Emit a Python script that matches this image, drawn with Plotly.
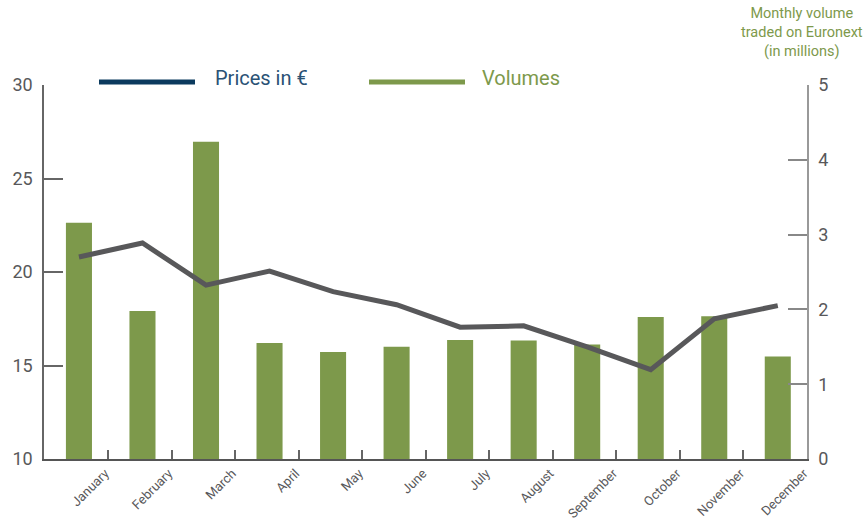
import plotly.graph_objects as go

months = ["January", "February", "March", "April", "May", "June", "July",
          "August", "September", "October", "November", "December"]
volumes = [3.16, 1.98, 4.24, 1.55, 1.43, 1.50, 1.59, 1.585, 1.53, 1.90, 1.91, 1.37]
prices = [20.8, 21.55, 19.3, 20.05, 18.95, 18.25, 17.05, 17.12, 16.0, 14.78, 17.5, 18.2]
price_ticks = [10, 15, 20, 25, 30]
volume_ticks = [0, 1, 2, 3, 4, 5]

GREEN = "#7d994b"
GREY_LINE = "#58585a"
NAVY = "#0b3a5e"
TXT = "#58585a"
FONT = "Roboto"

x = list(range(len(months)))

fig = go.Figure()
fig.add_trace(go.Bar(x=x, y=volumes, width=0.41, marker=dict(color=GREEN, line=dict(width=0)),
                     yaxis="y", name="Volumes", showlegend=False))
fig.add_trace(go.Scatter(x=x, y=prices, mode="lines", line=dict(color=GREY_LINE, width=5),
                         yaxis="y2", name="Prices in €", showlegend=False))

fig.update_layout(
    width=868, height=524,
    margin=dict(l=44, r=61, t=85, b=65),
    paper_bgcolor="white", plot_bgcolor="white",
    font=dict(family=FONT, color=TXT),
    xaxis=dict(range=[-0.55, 11.46], tickmode="array", tickvals=[i + 0.46 for i in x],
               ticktext=months, tickangle=-45, ticks="inside", ticklen=9, tickwidth=1.5,
               tickcolor="#666", showline=True, linecolor="#555", linewidth=1.5,
               showgrid=False, zeroline=False, tickfont=dict(size=13, color=TXT),
               ticklabelshift=-3, automargin=False),
    yaxis=dict(range=[0, 5], side="right", tickmode="array", tickvals=volume_ticks,
               ticks="inside", ticklen=19, tickwidth=1.5, tickcolor="#888",
               showline=True, linecolor="#999", linewidth=1.5, showgrid=False,
               zeroline=False, tickfont=dict(size=18, color=TXT), ticklabelstandoff=6,
               automargin=False),
    yaxis2=dict(range=[10, 30], side="left", overlaying="y", tickmode="array",
                tickvals=price_ticks, ticks="inside", ticklen=19, tickwidth=1.5,
                tickcolor="#666", showline=True, linecolor="#666", linewidth=1.5,
                showgrid=False, zeroline=False, tickfont=dict(size=18, color=TXT),
                ticklabelstandoff=6, automargin=False),
    showlegend=False,
)

# custom legend
fig.add_shape(type="line", xref="paper", yref="paper", x0=(99 - 44) / 763, x1=(195 - 44) / 763,
              y0=(459 - 82) / 374, y1=(459 - 82) / 374, line=dict(color=NAVY, width=5))
fig.add_annotation(xref="paper", yref="paper", x=(213 - 44) / 763, y=(459 - 78) / 374,
                   text="Prices in €", showarrow=False, xanchor="left", yanchor="middle",
                   font=dict(size=20, color="#2a5275", family=FONT))
fig.add_shape(type="line", xref="paper", yref="paper", x0=(369 - 44) / 763, x1=(465 - 44) / 763,
              y0=(459 - 82) / 374, y1=(459 - 82) / 374, line=dict(color=GREEN, width=5))
fig.add_annotation(xref="paper", yref="paper", x=(480 - 44) / 763, y=(459 - 78) / 374,
                   text="Volumes", showarrow=False, xanchor="left", yanchor="middle",
                   font=dict(size=20, color=GREEN, family=FONT))

# right axis title
fig.add_annotation(xref="paper", yref="paper", x=(802 - 44) / 763, y=(459 - 3) / 374,
                   text="Monthly volume<br>traded on Euronext<br>(in millions)",
                   showarrow=False, xanchor="center", yanchor="top", align="center",
                   font=dict(size=14.5, color=GREEN, family=FONT))

fig.write_html("out.html", config={"displayModeBar": False},
               post_script="document.body.style.margin='0';document.body.style.overflow='hidden';")
